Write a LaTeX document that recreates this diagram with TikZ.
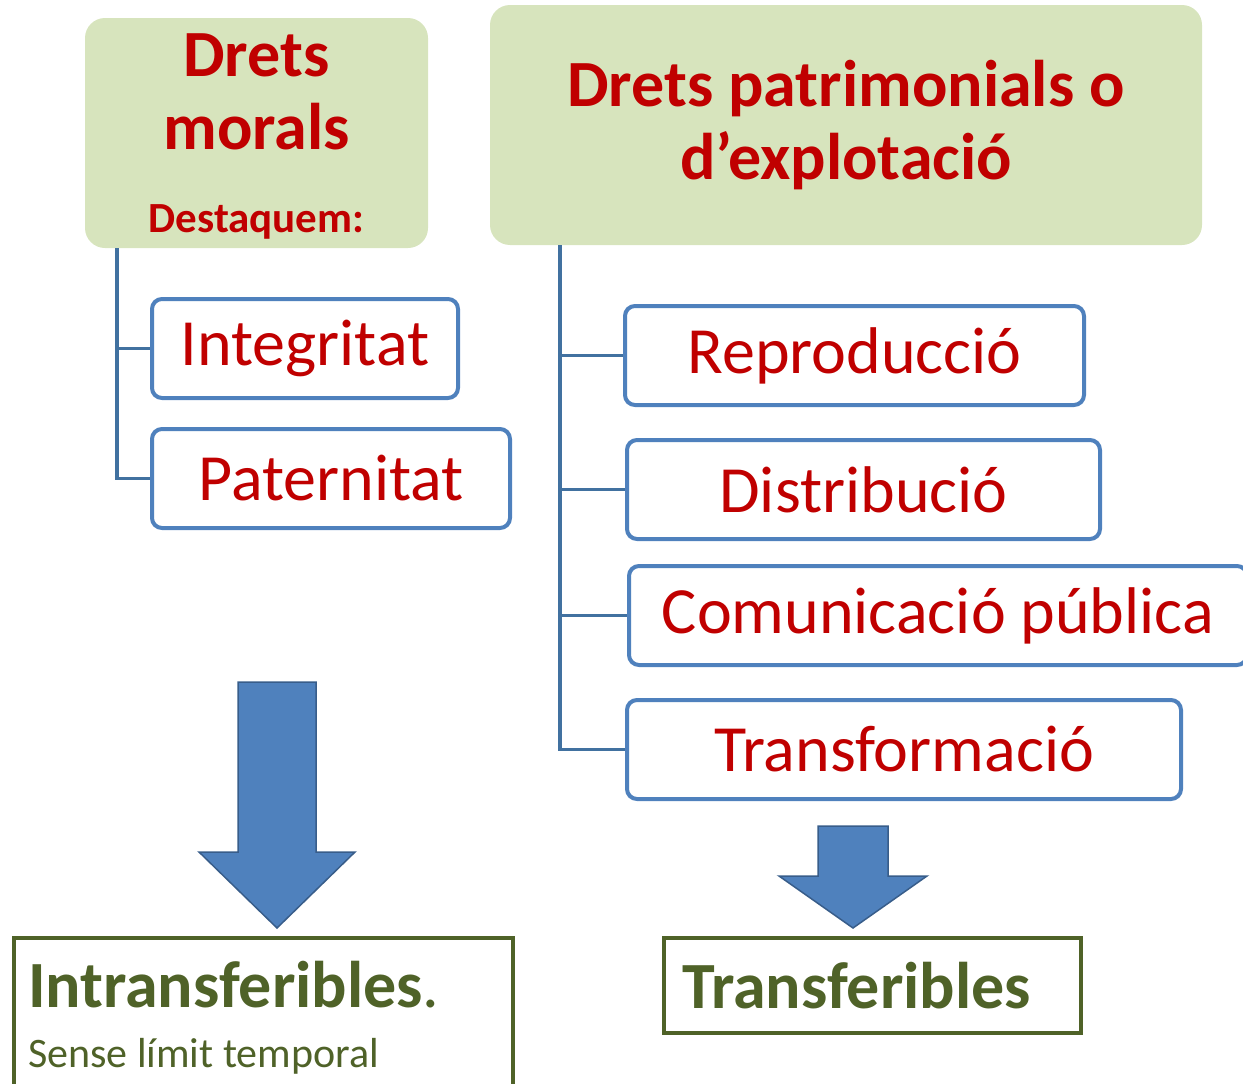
\documentclass[tikz,border=0pt]{standalone}
\usepackage{fontspec}
\setmainfont{Carlito}
\usetikzlibrary{positioning}

\definecolor{boxgreen}{RGB}{215,228,189}
\definecolor{darkred}{RGB}{192,0,0}
\definecolor{itemblue}{RGB}{79,129,189}
\definecolor{treeblue}{RGB}{65,113,160}
\definecolor{arrowblue}{RGB}{79,129,189}
\definecolor{arrowedge}{RGB}{56,93,138}
\definecolor{resgreen}{RGB}{79,98,40}

\begin{document}
\begin{tikzpicture}[
    x=1pt, y=-1pt,
    titlebox/.style={rectangle, rounded corners=20pt, fill=boxgreen, align=center, text=darkred, font=\fontsize{66}{73}\selectfont\bfseries, inner sep=0pt},
    itembox/.style={rectangle, rounded corners=10pt, draw=itemblue, line width=4pt, fill=white, align=center, text=darkred, font=\fontsize{66}{73}\selectfont, minimum height=99pt, inner sep=0pt},
    resultbox/.style={rectangle, draw=resgreen, line width=4pt, align=flush left, text=resgreen},
    tree/.style={draw=treeblue, line width=3.5pt},
    blockarrow/.style={fill=arrowblue, draw=arrowedge, line width=1.5pt, line join=miter}
]
\useasboundingbox (0,0) rectangle (1243,1084);

% Headers
\node[titlebox, minimum width=343pt, minimum height=230pt] (morals) at (256.5,133) {\rule{0pt}{50pt}Drets\\morals\\[10pt]{\fontsize{43}{50}\selectfont Destaquem:}};
\node[titlebox, minimum width=712pt, minimum height=240pt] (patrim) at (846,125) {Drets patrimonials o\\d’explotació};

% Moral rights
\node[itembox, minimum width=306pt] (integ) at (305,348.5) {Integritat};
\node[itembox, minimum width=358pt] (patern) at (331,478.5) {Paternitat};

% Economic rights
\node[itembox, minimum width=459pt] (repro) at (854.5,355.5) {Reproducció};
\node[itembox, minimum width=473pt] (distrib) at (863.5,489.5) {Distribució};
\node[itembox, minimum width=618pt] (comunic) at (938,615.5) {Comunicació pública};
\node[itembox, minimum width=554pt] (transf) at (904,749.5) {Transformació};

% Results
\node[resultbox, anchor=north west, outer sep=0pt, text width=471pt, inner xsep=14pt, inner ysep=23pt, font=\fontsize{42}{60}\selectfont] (intrans) at (14,938) {{\fontsize{66}{66}\selectfont\bfseries Intransferibles}{\fontsize{66}{66}\selectfont.}\\Sense límit temporal};
\node[resultbox, text width=381pt, inner xsep=18pt, minimum height=95pt, font=\fontsize{66}{73}\selectfont\bfseries] (transfer) at (872.5,985.5) {Transferibles};

% Tree lines
\coordinate (mtop) at (117,248);
\coordinate (ptop) at (560,245);
\draw[tree] (mtop) |- (integ.west);
\draw[tree] (mtop) |- (patern.west);
\draw[tree] (ptop) |- (repro.west);
\draw[tree] (ptop) |- (distrib.west);
\draw[tree] (ptop) |- (comunic.west);
\draw[tree] (ptop) |- (transf.west);

% Block arrows
\draw[blockarrow] (238,682) -- (316,682) -- (316,852) -- (355,852) -- (277,928) -- (199,852) -- (238,852) -- cycle;
\draw[blockarrow] (818,826) -- (888,826) -- (888,876) -- (927,876) -- (853,928) -- (779,876) -- (818,876) -- cycle;

\end{tikzpicture}
\end{document}
